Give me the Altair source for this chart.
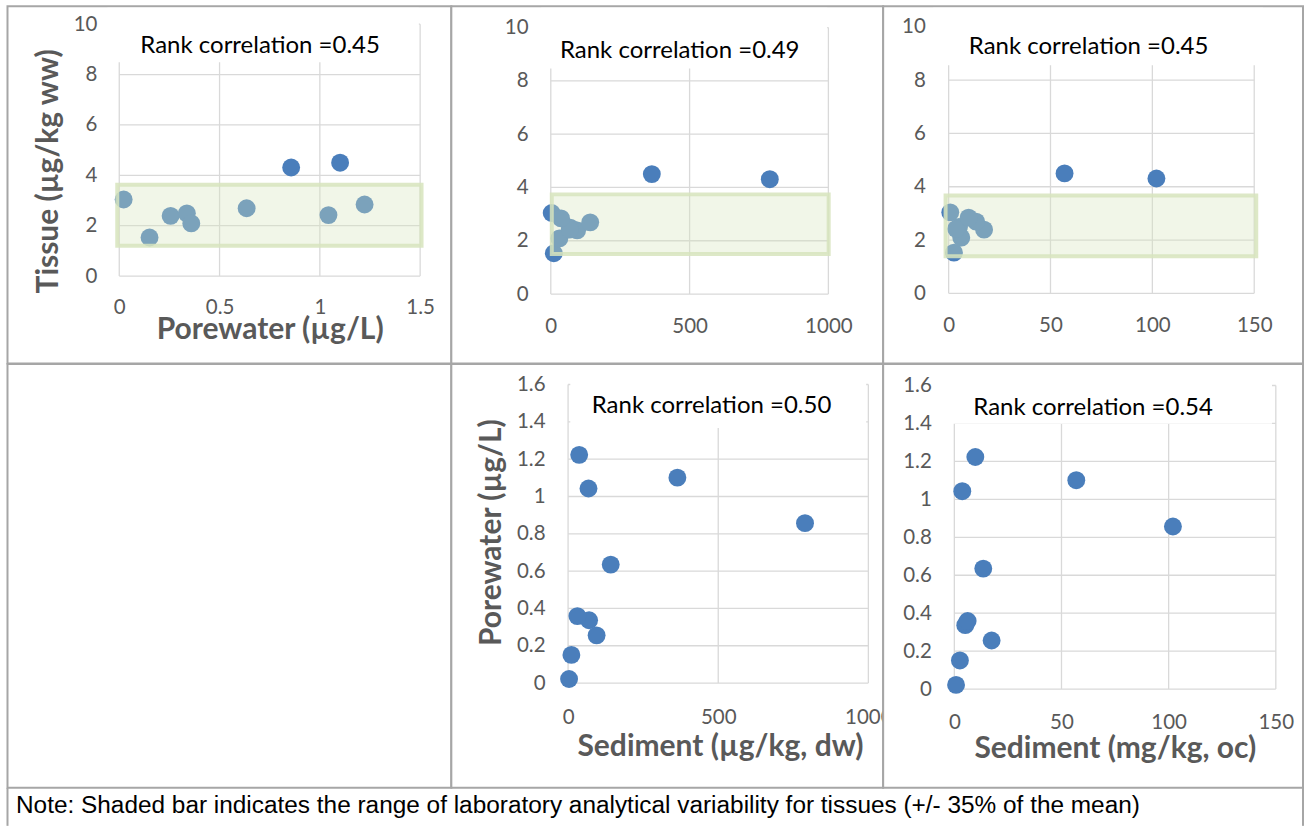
import altair as alt
import pandas as pd

# ---- data ----
porewater = [0.022, 0.151, 0.256, 0.337, 0.359, 0.635, 0.857, 1.101, 1.043, 1.223]
tissue = [3.04, 1.53, 2.39, 2.49, 2.09, 2.69, 4.31, 4.50, 2.42, 2.84]
sediment_dw = [3.3, 11, 95, 70, 31, 142, 789, 364, 68, 37]
sediment_oc = [0.8, 2.6, 17.4, 5.1, 6.2, 13.5, 102, 56.9, 3.7, 9.8]

rank_titles = ["Rank correlation =0.45", "Rank correlation =0.49", "Rank correlation =0.45",
               "Rank correlation =0.50", "Rank correlation =0.54"]

tissue_ticks = [0, 2, 4, 6, 8, 10]
porewater_ticks_x = [0, 0.5, 1, 1.5]
dw_ticks = [0, 500, 1000]
oc_ticks = [0, 50, 100, 150]
porewater_ticks_y = [0, 0.2, 0.4, 0.6, 0.8, 1.0, 1.2, 1.4, 1.6]

# shaded variability band (x from, x to, tissue low, tissue high) per tissue panel
band_p1 = [-0.01, 1.507, 1.20, 3.62]
band_p2 = [3.6, 1001, 1.50, 3.74]
band_p3 = [-1.5, 151, 1.39, 3.67]

note_text = "Note: Shaded bar indicates the range of laboratory analytical variability for tissues (+/- 35% of the mean)"

FONT = "Lato"
GRID = "#d9d9d9"
BLUE = "#4a7ebb"
BORDER = "#a6a6a6"
VIEW = alt.ViewBackground(stroke=BORDER, strokeWidth=2, fill="white")
TICK_FS = 20.5
TITLE_FS = 24
AXT_FS = 30
LABEL_EXPR = "toString(datum.value)"


def panel(xv, yv, xdom, ydom, xticks, yticks, g, band=None, xtitle=None, ytitle=None, title="", extra=None):
    w, h = g["w"], g["h"]
    xr, yr = g["xr"], g["yr"]
    xs = alt.Scale(domain=xdom, range=xr, nice=False, zero=False)
    ys = alt.Scale(domain=ydom, range=yr, nice=False, zero=False)
    xaxis_kw = dict(values=xticks, labelExpr=LABEL_EXPR, domain=False, ticks=False, tickSize=0, grid=False,
                    labelFont=FONT, labelFontSize=TICK_FS, labelColor="#595959",
                    labelPadding=g["xpad"], labelFlush=False, labelOverlap=False,
                    offset=-(h - yr[0]))
    yaxis_kw = dict(values=yticks, labelExpr=LABEL_EXPR, domain=False, ticks=False, tickSize=0, grid=False,
                    labelFont=FONT, labelFontSize=TICK_FS, labelColor="#595959",
                    labelPadding=g["ypad"], labelFlush=False, labelOverlap=False,
                    offset=-xr[0])
    title_kw = dict(titleFont=FONT, titleFontWeight="bold", titleFontSize=AXT_FS,
                    titleColor="#595959", titleBaseline="alphabetic")
    if xtitle:
        xaxis = alt.Axis(title=xtitle, titleX=g["xtx"], titleY=g["xty"], titleAlign="center", **title_kw, **xaxis_kw)
    else:
        xaxis = alt.Axis(title=None, **xaxis_kw)
    if ytitle:
        yaxis = alt.Axis(title=ytitle, titleX=g["ytx"], titleY=g["yty"], titleAlign="center", titleAngle=270, **title_kw, **yaxis_kw)
    else:
        yaxis = alt.Axis(title=None, **yaxis_kw)

    X = lambda f: alt.X(f, scale=xs, axis=xaxis)
    Y = lambda f: alt.Y(f, scale=ys, axis=yaxis)

    vg = pd.DataFrame({"x": xticks, "y": ydom[0], "y2": ydom[1]})
    hg = pd.DataFrame({"y": yticks, "x": xdom[0], "x2": xdom[1]})
    pts = pd.DataFrame({"x": xv, "y": yv})

    vgrid = alt.Chart(vg).mark_rule(color=GRID, strokeWidth=1.3).encode(x=X("x:Q"), y=Y("y:Q"), y2="y2:Q")
    hgrid = alt.Chart(hg).mark_rule(color=GRID, strokeWidth=1.3).encode(y=Y("y:Q"), x=X("x:Q"), x2="x2:Q")
    bx = g["box"]
    plate = alt.Chart(pd.DataFrame({"a": [0]})).mark_rect(fill="white", strokeWidth=0).encode(
        x=alt.value(bx[0]), x2=alt.value(bx[1]), y=alt.value(bx[2]), y2=alt.value(bx[3]))
    ttl = alt.Chart(pd.DataFrame({"t": [title]})).mark_text(
        font=FONT, fontSize=TITLE_FS, color="black", align="center", baseline="alphabetic").encode(
        text="t:N", x=alt.value(g["tx"]), y=alt.value(g["ty"]))
    points = alt.Chart(pts).mark_circle(size=320, color=BLUE, opacity=1).encode(x=X("x:Q"), y=Y("y:Q"))
    layers = [vgrid, hgrid, plate, ttl, points]
    if band is not None:
        bd = pd.DataFrame({"x": [band[0]], "x2": [band[1]], "y": [band[2]], "y2": [band[3]]})
        layers.append(alt.Chart(bd).mark_rect(fill="#d7e4bd", fillOpacity=0.35, stroke="#d7e4bd",
                                              strokeOpacity=0.85, strokeWidth=4).encode(
            x=X("x:Q"), x2="x2:Q", y=Y("y:Q"), y2="y2:Q"))
    if extra:
        layers += extra
    return alt.layer(*layers).properties(width=w, height=h, view=VIEW)


NOTE_H = 38
ROW2_H = 424


def border_rule(xpos):
    return alt.Chart(pd.DataFrame({"a": [0]})).mark_rule(color=BORDER, strokeWidth=2).encode(
        x=alt.value(xpos), y=alt.value(ROW2_H), y2=alt.value(ROW2_H + NOTE_H))


g1 = dict(w=444, h=357.5, xr=[111.8, 412.8], yr=[270, 18], xpad=21.7, ypad=22.3,
          box=[100, 411.5, 1.5, 56], tx=252.7, ty=47.3, xtx=262.3, xty=62.3, ytx=-61.6, yty=164.8)
g2 = dict(w=432, h=357.5, xr=[99.5, 377.2], yr=[288, 21.4], xpad=22.7, ypad=22.7,
          box=[90, 376, 1.5, 62.3], tx=228.5, ty=52.3)
g3 = dict(w=420, h=357.5, xr=[65.5, 371.2], yr=[287.3, 20.7], xpad=22, ypad=23.3,
          box=[50, 380, 1.5, 59], tx=205.5, ty=48.3)
g4 = dict(w=432, h=ROW2_H, xr=[116.8, 417.2], yr=[319.2, 20.5], xpad=24.3, ypad=23,
          box=[119, 415, 15, 64], tx=260.3, ty=49.2, xtx=268.7, xty=72.3, ytx=-67.3, yty=168.2)
g5 = dict(w=420, h=ROW2_H, xr=[71.2, 392.8], yr=[325.2, 21.5], xpad=23.4, ypad=23,
          box=[60, 389, 1.5, 59.8], tx=210, ty=51.5, xtx=231.7, xty=68)

p1 = panel(porewater, tissue, [0, 1.5], [0, 10], porewater_ticks_x, tissue_ticks, g1, band=band_p1,
           xtitle="Porewater (µg/L)", ytitle="Tissue (µg/kg ww)", title=rank_titles[0])
p2 = panel(sediment_dw, tissue, [0, 1000], [0, 10], dw_ticks, tissue_ticks, g2, band=band_p2, title=rank_titles[1])
p3 = panel(sediment_oc, tissue, [0, 150], [0, 10], oc_ticks, tissue_ticks, g3, band=band_p3, title=rank_titles[2])
p4 = panel(sediment_dw, porewater, [0, 1000], [0, 1.6], dw_ticks, porewater_ticks_y, g4,
           xtitle="Sediment (µg/kg, dw)", ytitle="Porewater (µg/L)", title=rank_titles[3])
p5 = panel(sediment_oc, porewater, [0, 150], [0, 1.6], oc_ticks, porewater_ticks_y, g5,
           xtitle="Sediment (mg/kg, oc)", title=rank_titles[4], extra=[border_rule(420)])

# empty lower-left cell also carries the note row beneath the table
note_t = alt.Chart(pd.DataFrame({"t": [note_text]})).mark_text(
    font="Liberation Sans", fontSize=24.4, color="black", align="left", baseline="alphabetic").encode(
    text="t:N", x=alt.value(8.5), y=alt.value(ROW2_H + 25.5))
empty = alt.layer(note_t, border_rule(0)).properties(width=444, height=ROW2_H, view=VIEW)

chart = alt.concat(p1, p2, p3, empty, p4, p5, columns=3, spacing=0, bounds="flush", align="each").properties(
    padding={"left": 5.5, "top": 5, "right": 5, "bottom": 0}, background="white"
).configure_view(stroke=None)

chart.save("out.html", embed_options={"renderer": "svg", "actions": False})
